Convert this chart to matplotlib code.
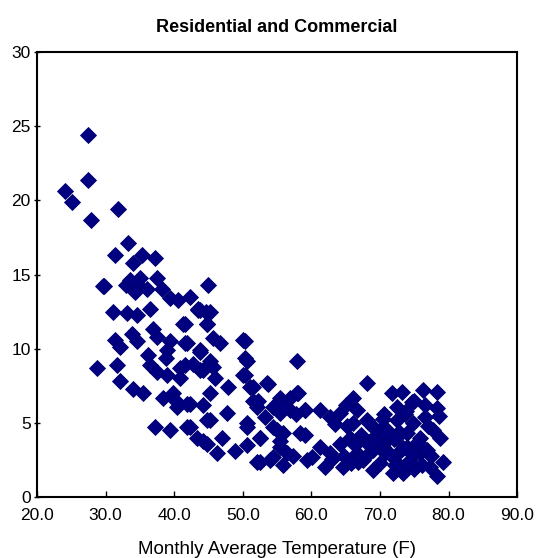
import matplotlib
matplotlib.use('Agg')
import matplotlib.pyplot as plt

# monthly average temperature (F) and consumption
temp = [27.4, 24.1, 25.1, 27.4, 27.9, 31.8, 33.3, 31.4, 34.0, 35.3, 37.2,
        29.6, 33.0, 34.7, 34.3, 35.0, 37.5, 38.2, 39.4, 40.6, 42.3, 43.5,
        44.9, 44.6, 29.8, 33.5, 36.0, 31.1, 33.1, 34.6, 36.5, 41.3, 43.5,
        44.8, 31.4, 32.1, 34.6, 36.9, 37.5, 39.4, 39.0, 41.9, 43.8, 45.2,
        28.7, 31.7, 36.5, 37.5, 39.0, 40.9, 40.9, 43.8, 32.1, 34.0, 35.5,
        38.4, 39.8, 40.4, 42.3, 45.2, 37.2, 39.4, 41.9, 43.3, 44.8, 45.2,
        43.8, 45.2, 41.6, 44.8, 45.7, 46.7, 50.0, 41.6, 43.8, 50.3, 57.9,
        41.6, 44.2, 45.7, 50.0, 51.1, 53.7, 47.9, 51.5, 55.4, 57.9, 41.9,
        44.2, 52.1, 54.4, 56.9, 59.1, 47.7, 44.8, 50.6, 54.4, 55.9, 58.4,
        52.5, 42.3, 44.2, 46.9, 50.6, 55.4, 57.3, 52.1, 54.0, 55.9, 59.4,
        50.3, 50.6, 50.3, 51.5, 53.5, 52.2, 55.0, 56.9, 58.1, 55.4, 59.1,
        61.3, 62.7, 64.2, 66.1, 68.1, 66.7, 68.1, 69.0, 71.8, 73.2, 74.7,
        72.5, 76.3, 78.3, 78.3, 76.6, 74.8, 72.5, 71.0, 50.6, 52.5, 55.0,
        55.4, 59.1, 56.5, 52.5, 54.4, 60.1, 62.0, 62.7, 64.6, 65.6, 66.7,
        67.5, 69.0, 70.0, 71.9, 71.9, 73.4, 74.0, 75.9, 77.3, 78.3, 79.2,
        78.8, 77.8, 75.9, 74.0, 70.5, 69.0, 64.2, 61.3, 66.0, 67.2, 68.6,
        70.2, 71.2, 72.8, 73.6, 75.2, 76.8, 77.5, 65.2, 66.3, 67.8, 69.6,
        70.8, 72.2, 73.0, 74.4, 75.6, 76.2, 63.5, 64.8, 67.0, 68.2, 71.5,
        72.9, 74.9, 77.0, 78.6, 63.0, 65.0, 66.8, 69.3, 70.4, 72.0, 73.8,
        75.0, 76.5, 68.4, 71.0, 73.3, 74.6, 56.0, 57.8, 53.2, 48.8, 46.2,
        36.2, 38.8, 42.8, 40.2, 46.0, 33.8, 65.8, 70.6, 72.4, 74.2]
usage = [24.4, 20.6, 19.9, 21.4, 18.7, 19.4, 17.1, 16.3, 15.8, 16.3, 16.1,
         14.2, 14.3, 14.3, 13.8, 14.8, 14.8, 14.0, 13.4, 13.3, 13.5, 12.7,
         14.3, 12.5, 14.2, 14.6, 14.0, 12.5, 12.4, 12.3, 12.7, 11.7, 12.6,
         11.7, 10.6, 10.1, 10.5, 11.3, 10.8, 10.5, 9.9, 10.4, 9.9, 9.2,
         8.7, 8.9, 8.9, 8.4, 8.2, 8.7, 8.0, 8.6, 7.8, 7.3, 7.0,
         6.7, 7.0, 6.1, 6.3, 7.0, 4.7, 4.5, 4.7, 4.0, 3.6, 5.2,
         12.6, 12.5, 11.7, 11.7, 10.7, 10.4, 10.6, 10.4, 9.8, 9.4, 9.2,
         8.9, 8.6, 8.8, 8.2, 7.4, 7.6, 7.4, 6.5, 6.7, 7.0, 6.3,
         6.2, 6.1, 6.1, 5.9, 5.9, 5.7, 5.2, 5.0, 4.7, 4.3, 4.3,
         4.0, 4.7, 3.8, 4.0, 3.5, 3.4, 2.8, 2.4, 2.5, 2.2, 2.5,
         10.5, 9.2, 8.2, 7.4, 7.7, 6.5, 6.3, 6.7, 7.0, 5.7, 5.9,
         5.9, 5.4, 5.7, 6.7, 7.7, 5.9, 5.2, 4.7, 7.0, 7.1, 6.4,
         6.1, 7.2, 7.1, 6.0, 5.4, 5.0, 5.2, 4.5, 4.7, 4.0, 4.5,
         3.8, 4.2, 3.0, 2.4, 2.7, 2.7, 2.0, 3.0, 2.0, 4.0, 3.0,
         2.5, 1.8, 2.3, 2.7, 1.6, 1.6, 3.4, 3.0, 2.0, 1.4, 2.4,
         4.0, 4.5, 4.0, 4.3, 3.4, 3.2, 3.6, 3.4, 5.0, 4.2, 3.8,
         4.6, 3.9, 4.4, 5.6, 3.6, 3.2, 2.8, 4.8, 3.5, 2.7, 4.1,
         3.0, 2.2, 3.2, 2.5, 3.7, 2.2, 4.9, 2.8, 2.6, 3.6, 2.9,
         2.1, 1.9, 4.8, 5.5, 2.6, 6.2, 2.4, 3.8, 5.3, 3.9, 5.8,
         6.5, 6.2, 5.0, 4.4, 3.3, 2.9, 6.0, 5.6, 5.4, 3.1, 3.0,
         9.6, 9.4, 9.0, 6.5, 8.0, 11.0, 2.3, 5.6, 4.0, 2.3]

xticks = [20, 30, 40, 50, 60, 70, 80, 90]
yticks = [0, 5, 10, 15, 20, 25, 30]

plt.rcParams['font.family'] = ['Liberation Sans', 'DejaVu Sans']

fig = plt.figure(figsize=(5.37, 5.58), dpi=100)
ax = fig.add_axes([0.069, 0.109, 0.894, 0.798])

ax.plot(temp, usage, linestyle='none', marker='D', markersize=8.5,
        color='#000080', markeredgecolor='#000070', markeredgewidth=0.6)

ax.set_xlim(20, 90)
ax.set_ylim(0, 30)
ax.set_xticks(xticks)
ax.set_xticklabels(['%.1f' % t for t in xticks])
ax.set_yticks(yticks)
ax.tick_params(axis='x', direction='in', length=4, width=1, labelsize=12.5, pad=8)
ax.tick_params(axis='y', direction='inout', length=5, width=1, labelsize=12.5, pad=2)
for s in ax.spines.values():
    s.set_linewidth(1.5)

ax.set_title('Residential and Commercial', fontsize=13, fontweight='bold', pad=14)
ax.set_xlabel('Monthly Average Temperature (F)', fontsize=13.5, labelpad=13)

fig.savefig('out.png', dpi=100)
